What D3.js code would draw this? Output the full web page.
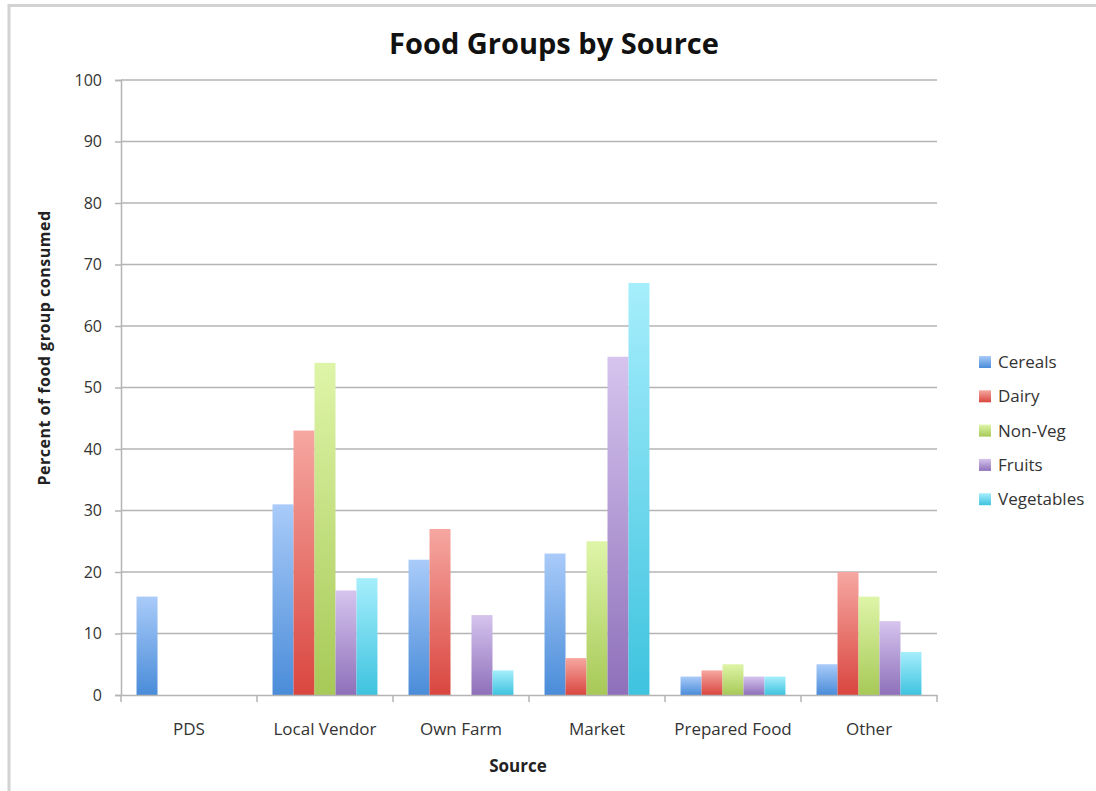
<!DOCTYPE html>
<html>
<head>
<meta charset="utf-8">
<script src="https://cdn.jsdelivr.net/npm/d3@7"></script>
<style>
  body { margin: 0; background: #fff; }
  svg { display: block; }
  .tick text { font-family: "Open Sans", sans-serif; fill: #333; }
</style>
</head>
<body>
<div id="chart"></div>
<script>
// chart values
const sources = ["PDS", "Local Vendor", "Own Farm", "Market", "Prepared Food", "Other"];
const groups = ["Cereals", "Dairy", "Non-Veg", "Fruits", "Vegetables"];
const cereals = [16, 31, 22, 23, 3, 5];
const dairy = [0, 43, 27, 6, 4, 20];
const nonVeg = [0, 54, 0, 25, 5, 16];
const fruits = [0, 17, 13, 55, 3, 12];
const vegetables = [0, 19, 4, 67, 3, 7];
const yTicks = [0, 10, 20, 30, 40, 50, 60, 70, 80, 90, 100];

// top / bottom gradient colour for each food group
const topColors = ["#a9cbf9", "#f6a7a1", "#def5a8", "#d6c4ee", "#a6eefc"];
const bottomColors = ["#4a8cd9", "#d9463f", "#a7c957", "#8e70ba", "#3ec3df"];

const seriesValues = [cereals, dairy, nonVeg, fruits, vegetables];

function renderChart() {
  let width = 1096,
    height = 791;

  let svg = d3
    .select("#chart")
    .append("svg")
    .attr("width", width)
    .attr("height", height);

  // frame round the chart
  svg
    .append("rect")
    .attr("x", 9)
    .attr("y", 5.5)
    .attr("width", width + 20)
    .attr("height", height + 20)
    .attr("fill", "#fff")
    .attr("stroke", "#d2d2d2")
    .attr("stroke-width", 3);

  let defs = svg.append("defs");
  groups.forEach((g, i) => {
    let grad = defs
      .append("linearGradient")
      .attr("id", `grad${i}`)
      .attr("x1", 0)
      .attr("y1", 0)
      .attr("x2", 0)
      .attr("y2", 1);
    grad.append("stop").attr("offset", "0%").attr("stop-color", topColors[i]);
    grad.append("stop").attr("offset", "100%").attr("stop-color", bottomColors[i]);
  });

  let left = 121,
    right = 937,
    top = 80,
    bottom = 695;

  let x = d3.scaleBand().domain(sources).range([left, right]).paddingInner(0).paddingOuter(0);
  // padding is a fraction of the inner step, so 0.74 gives ~15px each side
  let xInner = d3
    .scaleBand()
    .domain(groups)
    .range([0, x.bandwidth()])
    .paddingOuter(0.74)
    .paddingInner(0);
  let y = d3.scaleLinear().domain([0, 100]).range([bottom, top]);

  // gridlines
  svg
    .append("g")
    .selectAll("line")
    .data(yTicks.filter(t => t > 0))
    .enter()
    .append("line")
    .attr("x1", left)
    .attr("x2", right)
    .attr("y1", d => y(d))
    .attr("y2", d => y(d))
    .attr("stroke", "#b4b4b4")
    .attr("stroke-width", 1.5);

  // y axis
  let yAxis = svg
    .append("g")
    .attr("transform", `translate(${left},0)`)
    .call(d3.axisLeft(y).tickValues(yTicks).tickSize(6).tickPadding(13));
  yAxis.select(".domain").attr("stroke", "#b4b4b4").attr("stroke-width", 1.5);
  yAxis.selectAll(".tick line").attr("stroke", "#b4b4b4").attr("stroke-width", 1.5);
  yAxis.selectAll(".tick text").attr("font-size", 16);

  // bars
  let groupSel = svg
    .append("g")
    .selectAll("g")
    .data(sources)
    .enter()
    .append("g")
    .attr("transform", d => `translate(${x(d)},0)`);

  groupSel
    .selectAll("rect")
    .data((d, si) => groups.map((g, gi) => ({ group: g, gi: gi, value: seriesValues[gi][si] })))
    .enter()
    .filter(d => d.value > 0)
    .append("rect")
    .attr("x", d => xInner(d.group))
    .attr("width", xInner.bandwidth())
    .attr("y", d => y(d.value))
    .attr("height", d => y(0) - y(d.value))
    .attr("fill", d => `url(#grad${d.gi})`);

  // x axis
  let xAxis = svg
    .append("g")
    .attr("transform", `translate(0,${bottom})`)
    .call(d3.axisBottom(x).tickSize(0).tickPadding(28));
  xAxis.select(".domain").attr("stroke", "#b4b4b4").attr("stroke-width", 1.5);
  xAxis.selectAll(".tick text").attr("font-size", 17);
  // tick marks sit on the band edges
  svg
    .append("g")
    .selectAll("line")
    .data(sources.map(s => x(s)).concat([right]))
    .enter()
    .append("line")
    .attr("x1", d => d)
    .attr("x2", d => d)
    .attr("y1", bottom)
    .attr("y2", bottom + 7)
    .attr("stroke", "#b4b4b4")
    .attr("stroke-width", 1.5);

  // title and axis titles
  svg
    .append("text")
    .attr("x", 554)
    .attr("y", 54)
    .attr("text-anchor", "middle")
    .attr("font-family", "Open Sans, sans-serif")
    .attr("font-weight", "bold")
    .attr("font-size", 29)
    .attr("fill", "#111")
    .text("Food Groups by Source");

  svg
    .append("text")
    .attr("x", 518)
    .attr("y", 772)
    .attr("text-anchor", "middle")
    .attr("font-family", "Open Sans, sans-serif")
    .attr("font-weight", "bold")
    .attr("font-size", 17)
    .attr("fill", "#222")
    .text("Source");

  svg
    .append("text")
    .attr("transform", "translate(50,348) rotate(-90)")
    .attr("text-anchor", "middle")
    .attr("font-family", "Open Sans, sans-serif")
    .attr("font-weight", "bold")
    .attr("font-size", 16)
    .attr("letter-spacing", 0.5)
    .attr("fill", "#222")
    .text("Percent of food group consumed");

  // legend
  let legend = svg
    .append("g")
    .selectAll("g")
    .data(groups)
    .enter()
    .append("g")
    .attr("transform", (d, i) => `translate(979,${362 + i * 34.3})`);
  legend
    .append("rect")
    .attr("x", 0)
    .attr("y", -6)
    .attr("width", 12)
    .attr("height", 12)
    .attr("fill", (d, i) => `url(#grad${i})`);
  legend
    .append("text")
    .attr("x", 19)
    .attr("y", 6)
    .attr("font-family", "Open Sans, sans-serif")
    .attr("font-size", 17)
    .attr("fill", "#333")
    .text(d => d);
}

renderChart();
</script>
</body>
</html>
